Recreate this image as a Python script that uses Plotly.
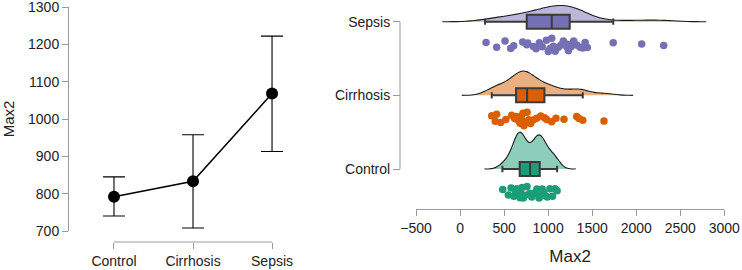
import plotly.graph_objects as go

# ---------------- data ----------------
groups = ["Control", "Cirrhosis", "Sepsis"]
means = [792, 833, 1068]
ci_low = [740, 708, 913]
ci_high = [845, 958, 1222]

control_vals = [484, 548, 580, 610, 630, 645, 655, 665, 672, 680, 688, 695, 705, 718,
                735, 760, 790, 815, 840, 860, 872, 882, 890, 898, 905, 920, 932, 948,
                965, 990, 1020, 1050, 1078, 1102]
cirrhosis_vals = [360, 400, 416, 461, 520, 586, 620, 640, 660, 681, 695, 705, 715, 725,
                  740, 761, 780, 800, 832, 870, 916, 958, 984, 1040, 1089, 1180, 1324,
                  1350, 1393, 1634]
sepsis_vals = [295, 416, 511, 575, 609, 711, 757, 768, 832, 863, 900, 934, 980, 1002,
               1022, 1041, 1059, 1080, 1116, 1150, 1173, 1200, 1211, 1230, 1245, 1260,
               1290, 1325, 1362, 1393, 1420, 1445, 1739, 2062, 2312]
values = [control_vals, cirrhosis_vals, sepsis_vals]

# box statistics (q1, median, q3, lower whisker, upper whisker)
box_q1 = [677, 636, 757]
box_med = [795, 761, 1041]
box_q3 = [905, 958, 1245]
box_lo = [481, 360, 284]
box_hi = [1102, 1393, 1739]

# density extents, bandwidths and relative peak heights
dens_span = [[280, 1311], [23, 1962], [-198, 2791]]
dens_bw = [60, 110, 160]
dens_width = [1.0, 0.66, 0.44]

y_ticks = [700, 800, 900, 1000, 1100, 1200, 1300]
x_ticks = [-500, 0, 500, 1000, 1500, 2000, 2500, 3000]

colors = ["#1B9E77", "#D95F02", "#7570B3"]
light = ["#8DCEBB", "#ECAF80", "#BAB7D9"]

W, H = 742, 270
def px_x(p): return p / W
def px_y(p): return (H - p) / H

FONT = "Liberation Sans, Arial, sans-serif"
AX = "#9a9a9a"
TXT = "#222222"

fig = go.Figure()

# ---------------- left panel ----------------
fig.add_trace(go.Scatter(
    x=list(range(len(groups))), y=means, mode="lines+markers",
    line=dict(color="black", width=1.5),
    marker=dict(color="black", size=12),
    error_y=dict(type="data", symmetric=False,
                 array=[h - m for h, m in zip(ci_high, means)],
                 arrayminus=[m - l for m, l in zip(means, ci_low)],
                 color="black", thickness=1.1, width=11),
    cliponaxis=False, xaxis="x", yaxis="y", showlegend=False, hoverinfo="skip"))

# ---------------- right panel ----------------
for i, g in enumerate(groups):
    fig.add_trace(go.Violin(
        x=values[i], y=[g] * len(values[i]), orientation="h", side="positive",
        width=dens_width[i], bandwidth=dens_bw[i], spanmode="manual", span=dens_span[i],
        scalegroup=g, scalemode="width",
        points=False, box_visible=False, meanline_visible=False,
        fillcolor=light[i], line=dict(color="#1a1a1a", width=1.1),
        xaxis="x2", yaxis="y2", showlegend=False, hoverinfo="skip"))

for i, g in enumerate(groups):
    fig.add_trace(go.Box(
        y=[g], q1=[box_q1[i]], median=[box_med[i]], q3=[box_q3[i]],
        lowerfence=[box_lo[i]], upperfence=[box_hi[i]], orientation="h",
        width=0.19, whiskerwidth=0.45, boxpoints=False,
        fillcolor=colors[i], line=dict(color="#3a3a3a", width=2),
        xaxis="x2", yaxis="y2", showlegend=False, hoverinfo="skip"))

for i, g in enumerate(groups):
    fig.add_trace(go.Box(
        x=values[i], y=[g] * len(values[i]), orientation="h",
        width=0.31, boxpoints="all", jitter=0.7, pointpos=-2,
        fillcolor="rgba(0,0,0,0)", line=dict(color="rgba(0,0,0,0)", width=0),
        marker=dict(color=colors[i], size=7.5, line=dict(width=0)),
        xaxis="x2", yaxis="y2", showlegend=False, hoverinfo="skip"))

axis_common = dict(showgrid=False, zeroline=False, ticks="outside", tickcolor=AX,
                   tickfont=dict(family=FONT, size=14, color=TXT), linecolor=AX,
                   linewidth=1, automargin=False, ticklabeloverflow="allow")

n = len(groups)
fig.update_layout(
    width=W, height=H, margin=dict(l=0, r=0, t=0, b=0),
    plot_bgcolor="white", paper_bgcolor="white",
    font=dict(family=FONT, color=TXT),
    xaxis=dict(domain=[px_x(68), px_x(300)], range=[-0.582, (n - 1) + 0.354],
               tickvals=list(range(n)), ticktext=groups,
               anchor="free", position=px_y(242),
               showline=False, ticklen=6, **axis_common),
    yaxis=dict(domain=[px_y(231), px_y(7)], range=[y_ticks[0], y_ticks[-1]],
               tickvals=y_ticks, anchor="free", position=px_x(68),
               showline=True, ticklen=6,
               title=dict(text="Max2", font=dict(family=FONT, size=15, color=TXT),
                          standoff=9),
               **axis_common),
    xaxis2=dict(domain=[px_x(416), px_x(724.3)], range=[x_ticks[0], x_ticks[-1]],
                tickvals=x_ticks, anchor="free", position=px_y(209),
                showline=True, ticklen=6,
                title=dict(text="Max2", font=dict(family=FONT, size=17, color=TXT),
                           standoff=15),
                **axis_common),
    yaxis2=dict(domain=[px_y(209), 1.0], type="category", categoryorder="array",
                categoryarray=groups, range=[-0.543, 2.295], anchor="free",
                position=px_x(400), showline=False, ticklen=7, **axis_common),
    shapes=[
        dict(type="line", xref="x", yref="paper", x0=0, x1=n - 1,
             y0=px_y(242), y1=px_y(242), line=dict(color=AX, width=1)),
        dict(type="line", xref="paper", yref="y2", x0=px_x(400), x1=px_x(400),
             y0=0, y1=n - 1, line=dict(color=AX, width=1)),
    ],
)

fig.write_html("out.html")
